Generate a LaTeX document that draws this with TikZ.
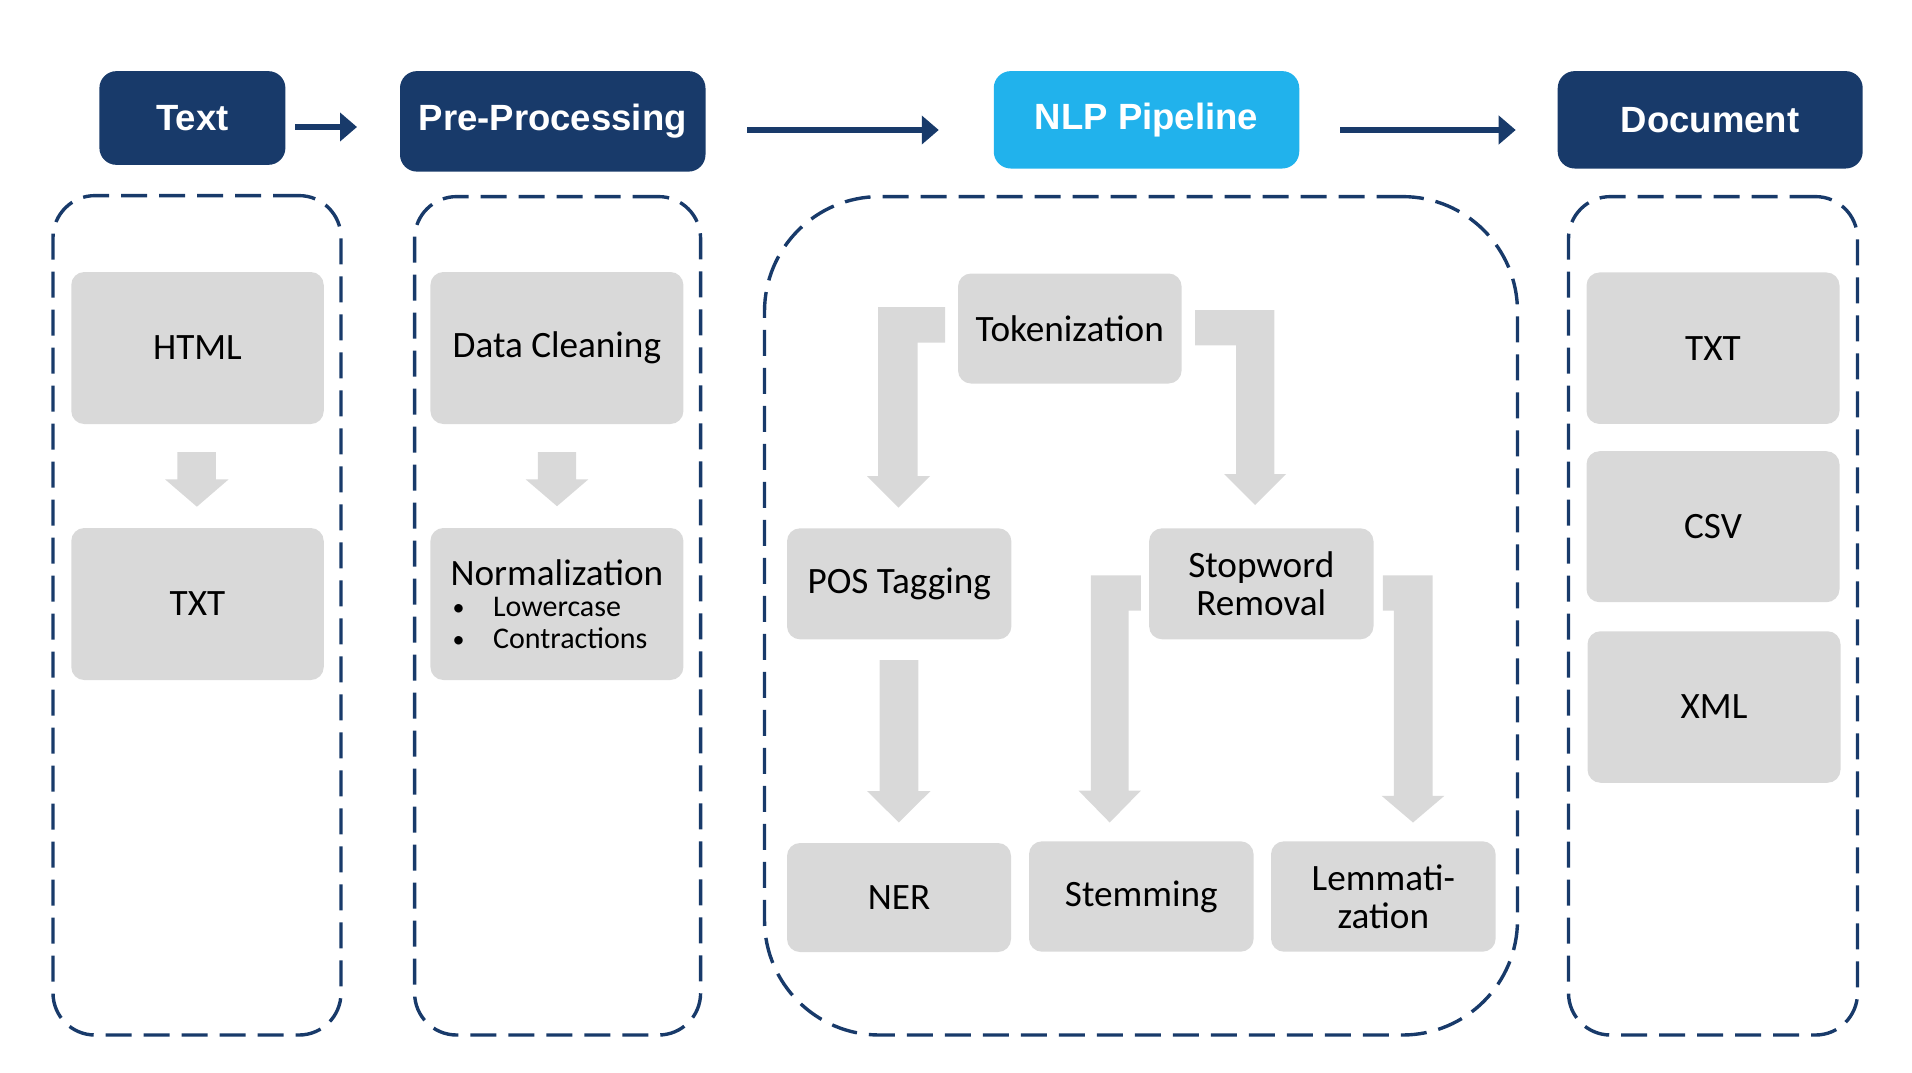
\documentclass[tikz,border=0pt]{standalone}
\usepackage{fontspec}
\setmainfont{Carlito}
\newfontfamily\headfont{Liberation Sans}
\usetikzlibrary{arrows.meta,calc}
\definecolor{navy}{RGB}{24,58,106}
\definecolor{skyblue}{RGB}{33,178,236}
\definecolor{boxgray}{RGB}{217,217,217}
\newcommand{\mybullet}{\makebox[42.5pt][l]{\hspace{2pt}\raisebox{1pt}{\fontsize{24}{24}\selectfont\textbullet}}}
\begin{document}
\begin{tikzpicture}[x=1pt,y=-1pt,
  header/.style={rectangle, rounded corners=17pt, inner sep=0pt, outer sep=0pt,
    text=white, font=\headfont\bfseries\fontsize{36.5}{40}\selectfont},
  graybox/.style={rectangle, rounded corners=13pt, fill=boxgray, inner sep=0pt,
    outer sep=0pt, align=center, font=\fontsize{37.2}{37.7}\selectfont},
  container/.style={rectangle, draw=navy, line width=3.4pt, dash pattern=on 26pt off 12pt,
    rounded corners=42pt, inner sep=0pt, outer sep=0pt},
  flowarrow/.style={draw=navy, line width=6.8pt, -{Triangle[length=17pt,width=28pt]}},
  grayarrow/.style={fill=boxgray}]
\useasboundingbox (0,0) rectangle (1912,1072);

% headers
\node[header, fill=navy, minimum width=186pt, minimum height=93.7pt] (tx) at (192.4,118) {Text};
\node[header, fill=navy, minimum width=305.5pt, minimum height=100.5pt] (pp) at (552.75,121.35) {Pre-Processing};
\node[header, fill=skyblue, minimum width=305.5pt, minimum height=97.4pt] (nlp) at (1146.5,119.8) {NLP Pipeline};
\node[header, fill=navy, minimum width=305pt, minimum height=97.4pt] (doc) at (1710.2,119.8) {Document};

% header arrows
\draw[flowarrow] ($(tx.east)+(10,9)$) -- ($(pp.west)+(-43,5.65)$);
\draw[flowarrow] ($(pp.east)+(41.5,8.65)$) -- ($(nlp.west)+(-55,10.2)$);
\draw[flowarrow] ($(nlp.east)+(41,10.2)$) -- ($(doc.west)+(-42,10.2)$);

% containers
\node[container, minimum width=288pt, minimum height=839.4pt] (c1) at (197,615.3) {};
\node[container, minimum width=286pt, minimum height=838.4pt] (c2) at (557.6,615.8) {};
\node[container, rounded corners=115pt, minimum width=753pt, minimum height=838.4pt] (c3) at (1141,615.8) {};
\node[container, minimum width=289pt, minimum height=838.4pt] (c4) at (1713,615.8) {};

% column 1
\node[graybox, minimum width=252.5pt, minimum height=152pt] (html) at (197.5,348) {HTML};
\node[graybox, minimum width=252.5pt, minimum height=152pt] (txta) at (197.5,604) {TXT};
\fill[grayarrow] (177.4,452) -- (215.9,452) -- (215.9,479.3) -- (228.7,479.3) -- (196.9,506.7)
  -- (165,479.3) -- (177.4,479.3) -- cycle;

% column 2
\node[graybox, minimum width=253pt, minimum height=152pt] (dc) at (556.9,348) {Data Cleaning};
\node[graybox, minimum width=253pt, minimum height=152pt, align=left,
  font=\fontsize{30}{31.6}\selectfont] (norm) at (556.9,604)
  {{\fontsize{37.2}{34}\selectfont Normalization}\\
   \mybullet Lowercase\\
   \mybullet Contractions};
\fill[grayarrow] (537.8,452) -- (576.2,452) -- (576.2,479.3) -- (588.4,479.3) -- (557,506.2)
  -- (525.6,479.3) -- (537.8,479.3) -- cycle;

% column 3
\node[graybox, minimum width=223.6pt, minimum height=110pt] (tok) at (1069.8,328.5) {Tokenization};
\node[graybox, minimum width=224.4pt, minimum height=111pt] (pos) at (899.2,583.8) {POS Tagging};
\node[graybox, minimum width=224.4pt, minimum height=111pt] (stop) at (1261.3,583.8) {Stopword\\Removal};
\node[graybox, minimum width=224pt, minimum height=109pt] (ner) at (899,897.5) {NER};
\node[graybox, minimum width=224.6pt, minimum height=110.4pt] (stem) at (1141.3,896.5) {Stemming};
\node[graybox, minimum width=224.6pt, minimum height=110.4pt] (lem) at (1383.3,896.5) {Lemmati-\\zation};

% tokenization -> POS (bent)
\fill[grayarrow] (945,307) -- (878,307) -- (878,476) -- (867,476) -- (898.5,507.7) -- (930,476)
  -- (917.7,476) -- (917.7,342.6) -- (945,342.6) -- cycle;
% tokenization -> stopword (bent)
\fill[grayarrow] (1195,310) -- (1274.3,310) -- (1274.3,474) -- (1286,474) -- (1255,505)
  -- (1224,474) -- (1236,474) -- (1236,345.3) -- (1195,345.3) -- cycle;
% POS -> NER
\fill[grayarrow] (879.6,660) -- (918.4,660) -- (918.4,791) -- (930.5,791) -- (898.9,822.5)
  -- (867,791) -- (879.6,791) -- cycle;
% stopword -> stemming (bent)
\fill[grayarrow] (1140.8,575.3) -- (1090.8,575.3) -- (1090.8,790.7) -- (1078.6,790.7) -- (1109.7,822.5)
  -- (1140.8,790.7) -- (1128.6,790.7) -- (1128.6,610.5) -- (1140.8,610.5) -- cycle;
% stopword -> lemmatization (bent)
\fill[grayarrow] (1382.9,575.3) -- (1432.5,575.3) -- (1432.5,795.8) -- (1444.4,795.8) -- (1413,822.5)
  -- (1381.6,795.8) -- (1393.9,795.8) -- (1393.9,610.5) -- (1382.9,610.5) -- cycle;

% column 4
\node[graybox, minimum width=253pt, minimum height=151.5pt] (dtxt) at (1713,348.2) {TXT};
\node[graybox, minimum width=253pt, minimum height=151pt] (csv) at (1713,526.7) {CSV};
\node[graybox, minimum width=253pt, minimum height=151.5pt] (xml) at (1714,707) {XML};
\end{tikzpicture}
\end{document}
